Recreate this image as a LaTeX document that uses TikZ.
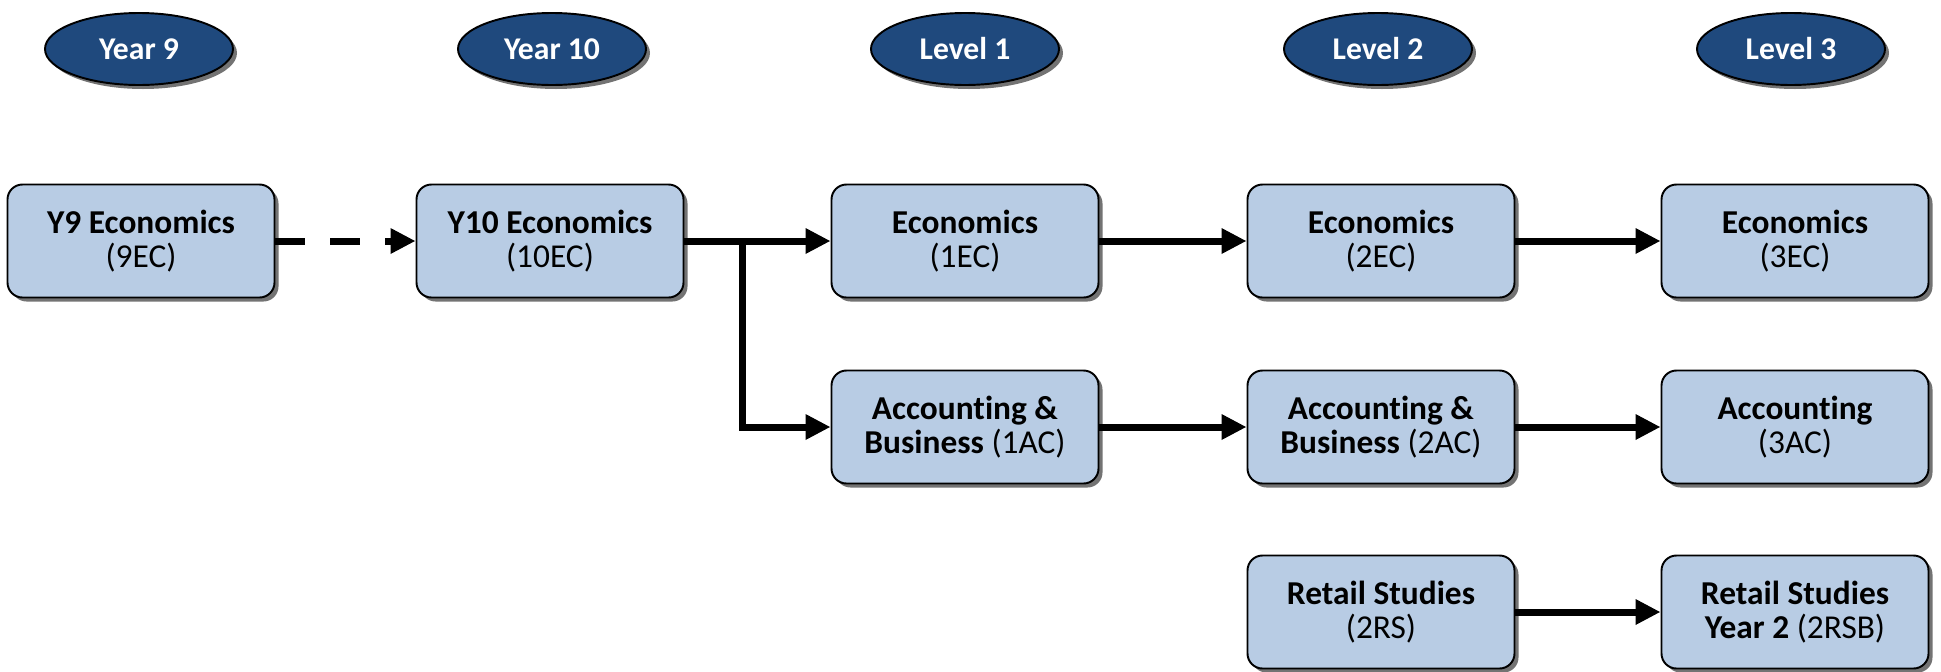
\documentclass[tikz,border=0pt]{standalone}
\usepackage{fontspec}
\setmainfont[Ligatures = NoCommon]{Carlito}
\usetikzlibrary{arrows.meta,shadows,shapes.geometric}

\definecolor{boxblue}{HTML}{B8CCE4}
\definecolor{headblue}{HTML}{1F497D}

\begin{document}
\begin{tikzpicture}[line width = 1.1pt,
    course/.style = {rectangle, rounded corners = 0.3cm, draw, fill = boxblue,
                     minimum width = 5.34cm, minimum height = 2.26cm, align = center,
                     font = \fontsize{19}{19}\selectfont,
                     drop shadow = {shadow xshift = 0.08cm, shadow yshift = -0.08cm, opacity = 1, fill = black!55}},
    year/.style = {ellipse, draw, fill = headblue, text = white,
                   minimum width = 3.76cm, minimum height = 1.44cm,
                   font = \fontsize{18}{18}\selectfont\bfseries,
                   drop shadow = {shadow xshift = 0.08cm, shadow yshift = -0.08cm, opacity = 1, fill = black!55}},
    link/.style = {line width = 0.14cm, -{Triangle[length = 0.5cm, width = 0.48cm]}}]
      \useasboundingbox (0, 0) rectangle (38.82, -13.42);
      % headings
      \node [year] (h9) at (2.78, -0.98){Year 9};
      \node [year] (h10) at (11.04, -0.98){Year 10};
      \node [year] (hl1) at (19.30, -0.98){Level 1};
      \node [year] (hl2) at (27.56, -0.98){Level 2};
      \node [year] (hl3) at (35.82, -0.98){Level 3};
      % courses
      \node [course] (y9ec) at (2.82, -4.82){\textbf{Y9 Economics}\\(9EC)};
      \node [course] (y10ec) at (11.0, -4.82){\textbf{Y10 Economics}\\(10EC)};
      \node [course] (l1ec) at (19.3, -4.82){\textbf{Economics}\\(1EC)};
      \node [course] (l2ec) at (27.62, -4.82){\textbf{Economics}\\(2EC)};
      \node [course] (l3ec) at (35.9, -4.82){\textbf{Economics}\\(3EC)};
      \node [course] (l1ac) at (19.3, -8.54){\textbf{Accounting \&}\\\textbf{Business} (1AC)};
      \node [course] (l2ac) at (27.62, -8.54){\textbf{Accounting \&}\\\textbf{Business} (2AC)};
      \node [course] (l3ac) at (35.9, -8.54){\textbf{Accounting}\\(3AC)};
      \node [course] (l2rs) at (27.62, -12.24){\textbf{Retail Studies}\\(2RS)};
      \node [course] (l3rs) at (35.9, -12.24){\textbf{Retail Studies}\\\textbf{Year 2} (2RSB)};
      \coordinate (split) at (14.84, -4.82);
      % links
      \draw [link, dash pattern = on 0.6cm off 0.5cm] (y9ec) -- (y10ec);
      \draw [link] (y10ec) -- (l1ec);
      \draw [link] (split) |- (l1ac);
      \draw [link] (l1ec) -- (l2ec);
      \draw [link] (l2ec) -- (l3ec);
      \draw [link] (l1ac) -- (l2ac);
      \draw [link] (l2ac) -- (l3ac);
      \draw [link] (l2rs) -- (l3rs);
    \end{tikzpicture}
\end{document}
